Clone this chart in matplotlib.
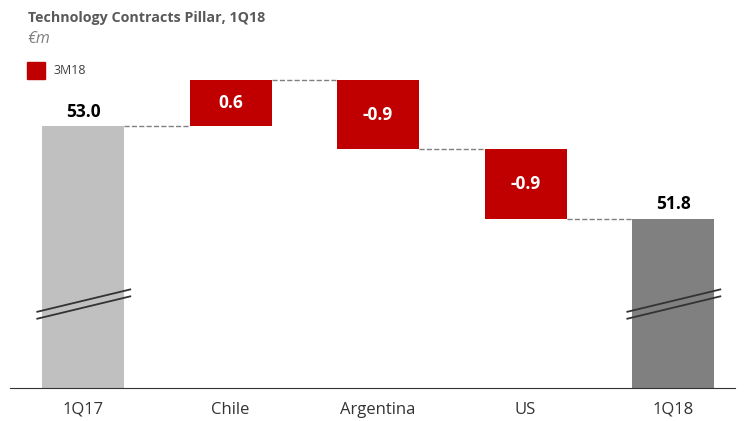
import matplotlib.pyplot as plt

plt.rcParams['font.family'] = ['Open Sans', 'DejaVu Sans']

categories = ['1Q17', 'Chile', 'Argentina', 'US', '1Q18']
start_total = 53.0
changes = [0.6, -0.9, -0.9]
end_total = 51.8
change_labels = ['0.6', '-0.9', '-0.9']

base = 49.6
red = '#c00000'

fig = plt.figure(figsize=(7.47, 4.21), dpi=100)
ax = fig.add_axes([0.0134, 0.0784, 0.9706, 0.7791])

w = 0.556
# totals
ax.bar(0, start_total - base, bottom=base, width=w, color='#c0c0c0')
ax.bar(4, end_total - base, bottom=base, width=w, color='#808080')
ax.text(0, start_total + 0.07, f'{start_total:.1f}', ha='center', va='bottom',
        fontsize=12.5, fontweight='bold', color='black')
ax.text(4, end_total + 0.07, f'{end_total:.1f}', ha='center', va='bottom',
        fontsize=12.5, fontweight='bold', color='black')

# changes
level = start_total
for i, (c, lab) in enumerate(zip(changes, change_labels), start=1):
    ax.plot([i - 1 + w/2, i - w/2], [level, level], ls='--', color='#808080', lw=1)
    ax.bar(i, c, bottom=level, width=w, color=red)
    ax.text(i, level + c/2, lab, ha='center', va='center', fontsize=12.5,
            fontweight='bold', color='white')
    level += c
ax.plot([3 + w/2, 4 - w/2], [level, level], ls='--', color='#808080', lw=1)

# break marks
for i in (0, 4):
    for off in (0, -0.09):
        ax.plot([i - 0.31, i + 0.32], [50.59 + off, 50.88 + off], color='#333333', lw=1.3)

ax.set_xlim(-0.495, 4.42)
ax.set_ylim(base, 53.86)
ax.set_xticks(range(len(categories)))
ax.set_xticklabels(categories, fontsize=12, color='#333333')
ax.tick_params(axis='x', length=0, pad=10)
ax.set_yticks([])
for s in ('top', 'right', 'left'):
    ax.spines[s].set_visible(False)
ax.spines['bottom'].set_color('#333333')

fig.text(0.037, 0.957, 'Technology Contracts Pillar, 1Q18', fontsize=10.3, fontweight='bold',
         color='#595959', va='center')
fig.text(0.037, 0.908, '€m', fontsize=11.5, style='italic', color='#7f7f7f', va='center')
fig.patches.append(plt.Rectangle((0.036, 0.812), 0.024, 0.04, color=red,
                                 transform=fig.transFigure, figure=fig))
fig.text(0.071, 0.832, '3M18', fontsize=9, color='#404040', va='center')

fig.savefig('out.png', dpi=100)
